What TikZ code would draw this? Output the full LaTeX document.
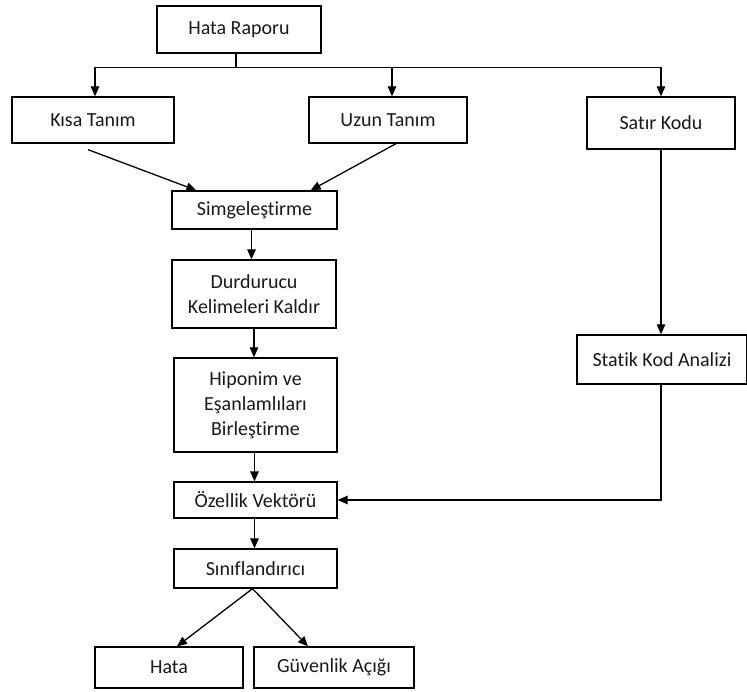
\documentclass[tikz,border=0pt]{standalone}
\usepackage{fontspec}
\setmainfont[Ligatures=NoCommon]{Carlito}
\usetikzlibrary{arrows.meta,calc}
\begin{document}
\begin{tikzpicture}[x=1pt,y=-1pt,
  every node/.style={font=\fontsize{20}{25}\selectfont, text=black!90},
  box/.style={draw, line width=1.3pt, rectangle, inner sep=0pt, align=center},
  link/.style={line width=1.3pt},
  arr/.style={line width=1.3pt, -{Triangle[length=10pt,width=8.5pt]}}]
  \useasboundingbox[fill=white] (0,0) rectangle (747,692);

  % boxes
  \node[box, minimum width=164pt, minimum height=47pt] (hr)     at (239,29.5)  {Hata Raporu};
  \node[box, minimum width=162pt, minimum height=46pt] (kisa)   at (93,120)    {Kısa Tanım};
  \node[box, minimum width=158pt, minimum height=46pt] (uzun)   at (388,120)   {Uzun Tanım};
  \node[box, minimum width=148pt, minimum height=52pt] (satir)  at (661,123)   {Satır Kodu};
  \node[box, minimum width=165pt, minimum height=38pt] (simg)   at (254.5,210) {Simgeleştirme};
  \node[box, minimum width=164pt, minimum height=68pt] (durd)   at (254,294)   {Durdurucu\\Kelimeleri Kaldır};
  \node[box, minimum width=163pt, minimum height=94pt] (hipo)   at (255.5,405) {Hiponim ve\\Eşanlamlıları\\Birleştirme};
  \node[box, minimum width=170pt, minimum height=49pt] (statik) at (662,359.5) {Statik Kod Analizi};
  \node[box, minimum width=163pt, minimum height=36pt] (ozel)   at (255.5,500) {Özellik Vektörü};
  \node[box, minimum width=163pt, minimum height=39pt] (sinif)  at (255.5,568.5) {Sınıflandırıcı};
  \node[box, minimum width=148pt, minimum height=41pt] (hata)   at (169,667.5) {Hata};
  \node[box, minimum width=160pt, minimum height=41pt] (guv)    at (334,667.5) {Güvenlik Açığı};

  % branching from the report
  \coordinate (bus) at ($(hr.south)+(-3,14)$);
  \coordinate (uzunin) at ([xshift=4pt]uzun.north);
  \draw[link] ([xshift=-3pt]hr.south) -- (bus);
  \draw[arr] (bus) -| ([xshift=2pt]kisa.north);
  \draw[arr] (bus) -| (satir.north);
  \draw[arr] (bus -| uzunin) -- (uzunin);

  % descriptions into tokenisation
  \draw[arr] ([xshift=-5pt,yshift=-6pt]kisa.south) -- ([xshift=25pt]simg.north west);
  \draw[arr] ([xshift=8pt]uzun.south) -- ([xshift=-27pt]simg.north east);

  % text pipeline
  \draw[arr] ([xshift=-3pt]simg.south) -- ([xshift=-3pt]simg.south |- durd.north);
  \draw[arr] (durd.south) -- (durd.south |- hipo.north);
  \draw[arr] ([xshift=-1pt]hipo.south) -- ([xshift=-1pt]ozel.north);
  \draw[arr] ([xshift=-1pt]ozel.south) -- ([xshift=-1pt]sinif.north);

  % code pipeline
  \draw[arr] (satir.south) -- (satir.south |- statik.north);
  \draw[arr] (satir.south |- statik.south) |- (ozel.east);

  % classifier outputs
  \draw[arr] ([xshift=-3pt]sinif.south) -- ([xshift=8pt]hata.north);
  \draw[arr] ([xshift=-3pt]sinif.south) -- ([xshift=-26pt]guv.north);
\end{tikzpicture}
\end{document}
